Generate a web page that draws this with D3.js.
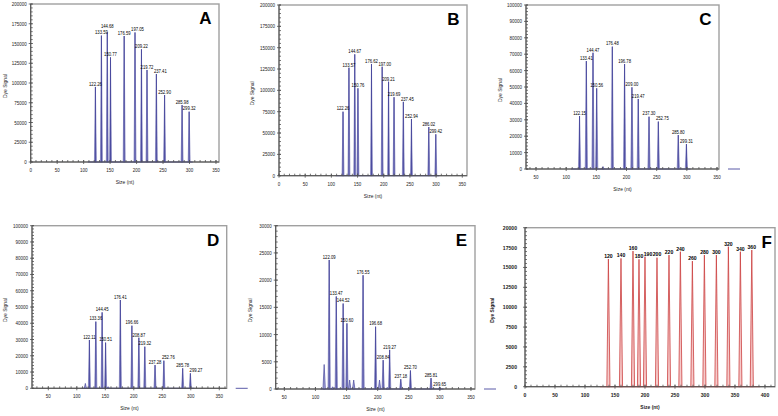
<!DOCTYPE html>
<html><head><meta charset="utf-8">
<script src="https://cdn.jsdelivr.net/npm/d3@7"></script>
<style>
html,body{margin:0;padding:0;background:#fff;}
svg{display:block;}
.t{font-family:"Liberation Sans",Arial,sans-serif;}
</style></head><body>
<svg id="chart" width="778" height="416"></svg>
<script>
// ---------------- data ----------------
const panelNames = ["A", "B", "C", "D", "E", "F"];
const xTitle = "Size (nt)";
const yTitle = "Dye Signal";

const sizesA  = [122.26, 133.59, 144.68, 150.77, 176.59, 197.05, 209.22, 219.72, 237.41, 252.90, 285.98, 299.32];
const signalA = [95000, 160000, 164000, 132500, 159500, 164000, 142700, 116500, 111400, 84800, 72000, 63700];

const sizesB  = [122.26, 133.57, 144.67, 150.76, 176.62, 197.00, 209.21, 219.69, 237.45, 252.94, 286.02, 299.42];
const signalB = [75000, 126500, 142200, 102400, 130900, 127700, 110100, 92000, 86500, 66400, 57000, 48500];

const sizesC  = [122.15, 133.41, 144.47, 150.56, 176.48, 196.78, 209.00, 219.47, 237.30, 252.75, 285.80, 299.31];
const signalC = [32300, 65800, 70900, 49200, 74600, 64000, 49800, 42700, 31900, 28900, 20700, 15200];
const minorSizesC  = [161];
const minorSignalC = [1500];

const sizesD  = [122.11, 133.36, 144.45, 150.51, 176.41, 196.66, 208.87, 219.32, 237.28, 252.76, 285.78, 299.27];
const signalD = [29700, 41000, 46700, 28100, 54300, 38500, 31100, 25600, 14300, 17000, 12300, 9200];
const minorSizesD  = [115, 155];
const minorSignalD = [3000, 1000];

const sizesE  = [122.09, 133.47, 144.52, 150.60, 176.55, 196.68, 208.84, 219.27, 237.18, 252.70, 285.81, 299.65];
const signalE = [23700, 17000, 15700, 12060, 20900, 11450, 5300, 7200, 1800, 3400, 2000, 400];
const minorSizesE  = [114, 127.6, 155, 161.5, 203, 215.4];
const minorSignalE = [4500, 400, 1650, 1650, 1650, 300];

const sizesF  = [139, 160, 180, 190, 200, 220, 240, 259, 279, 299, 319, 339, 359, 378];
const signalF = [16060, 16140, 17060, 16020, 16350, 16230, 16560, 16980, 15800, 16560, 16560, 17610, 16980, 17190];
const labelsF = ["120", "140", "160", "180", "190", "200", "220", "240", "260", "280", "300", "320", "340", "360"];

const yMaxes    = [200000, 200000, 100000, 100000, 30000, 20000];
const yMajor    = [25000, 25000, 10000, 10000, 5000, 2500];
const yMinor    = [5000, 5000, 2000, 2000, 1000, 500];
const xTicks0to350  = [0, 50, 100, 150, 200, 250, 300, 350];
const xTicks50to350 = [50, 100, 150, 200, 250, 300, 350];
const xTicks0to400  = [0, 50, 100, 150, 200, 250, 300, 350, 400];
const traceStart = [108, 108, 108, 108, 108, 125];
const traceEnd   = [306, 306, 306, 306, 306, 392];

// ---------------- layout (positions / styles) ----------------
const layout = [
  {x0: 30.7, x1: 219,   y0: 4,     y1: 162,   xd: [0, 355.7],    ytOff: 26, stub: false, lx: 13.5},
  {x0: 279,  x1: 467,   y0: 5,     y1: 175.7, xd: [0, 359],      ytOff: 27, stub: false, lx: 13.5},
  {x0: 526,  x1: 719,   y0: 5,     y1: 169,   xd: [33.4, 353.3], ytOff: 26, stub: true,  lx: 13.5},
  {x0: 32,   x1: 226.7, y0: 225.7, y1: 388.3, xd: [21.4, 363],   ytOff: 27, stub: true,  lx: 13.5},
  {x0: 275.7,x1: 475,   y0: 225.7, y1: 389,   xd: [36.1, 356.5], ytOff: 26, stub: true,  lx: 13.5},
  {x0: 525,  x1: 775,   y0: 227.7, y1: 386.7, xd: [0, 416.7],    ytOff: 33, stub: false, lx: 8.3}
];
const blue = {fill: "#a4a4d8", stroke: "#4a4a9e", base: "#5a5aa8"};
const red  = {fill: "#f6caca", stroke: "#cc4040", base: "#d06060"};

const panels = [
  {sizes: sizesA, signal: signalA, labels: sizesA.map(d3.format(".2f")), mS: [], mV: [], xt: xTicks0to350},
  {sizes: sizesB, signal: signalB, labels: sizesB.map(d3.format(".2f")), mS: [], mV: [], xt: xTicks0to350},
  {sizes: sizesC, signal: signalC, labels: sizesC.map(d3.format(".2f")), mS: minorSizesC, mV: minorSignalC, xt: xTicks50to350},
  {sizes: sizesD, signal: signalD, labels: sizesD.map(d3.format(".2f")), mS: minorSizesD, mV: minorSignalD, xt: xTicks50to350},
  {sizes: sizesE, signal: signalE, labels: sizesE.map(d3.format(".2f")), mS: minorSizesE, mV: minorSignalE, xt: xTicks50to350},
  {sizes: sizesF, signal: signalF, labels: labelsF, mS: [], mV: [], xt: xTicks0to400}
];

const svg = d3.select("#chart");

function ctext(g, x, y, str, o) {
  return g.append("text").attr("class", "t")
    .attr("transform", `translate(${x},${y}) ${o.rot ? "rotate(-90) " : ""}scale(${o.sx},1)`)
    .attr("text-anchor", o.anchor || "middle")
    .attr("font-size", o.size).attr("font-weight", o.bold ? "bold" : "normal")
    .attr("fill", o.fill || "#111").text(str);
}

panels.forEach((p, i) => {
  const L = layout[i];
  const isF = i === 5;
  const col = isF ? red : blue;
  const x = d3.scaleLinear().domain(L.xd).range([L.x0, L.x1]);
  const y = d3.scaleLinear().domain([0, yMaxes[i]]).range([L.y1, L.y0]);
  const g = svg.append("g");

  g.append("rect").attr("x", L.x0).attr("y", L.y0)
    .attr("width", L.x1 - L.x0).attr("height", L.y1 - L.y0)
    .attr("fill", "none").attr("stroke", "#a0a0a0").attr("stroke-width", 1.4);

  g.append("line").attr("x1", x(traceStart[i])).attr("x2", x(traceEnd[i]))
    .attr("y1", y(0)).attr("y2", y(0)).attr("stroke", col.base).attr("stroke-width", 1);

  const hw = isF ? 2.6 : 1.9;
  const peakPath = (s, v) => `M${x(s - hw)},${y(0)}L${x(s)},${y(v)}L${x(s + hw)},${y(0)}Z`;
  const minors = p.mS.map((s, k) => ({s, v: p.mV[k]}));
  g.selectAll(".minor").data(minors).join("path")
    .attr("d", d => peakPath(d.s, d.v))
    .attr("fill", col.fill).attr("stroke", col.stroke).attr("stroke-width", 0.7);
  const peaks = p.sizes.map((s, k) => ({s, v: p.signal[k], lab: p.labels[k]}));
  g.selectAll(".peak").data(peaks).join("path")
    .attr("d", d => peakPath(d.s, d.v))
    .attr("fill", col.fill).attr("stroke", col.stroke).attr("stroke-width", isF ? 0.8 : 0.5);
  if (!isF) {
    g.selectAll(".core").data(peaks).join("line")
      .attr("x1", d => x(d.s)).attr("x2", d => x(d.s))
      .attr("y1", y(0)).attr("y2", d => y(d.v))
      .attr("stroke", col.stroke).attr("stroke-width", 1);
  }

  g.append("line").attr("x1", L.x0).attr("x2", L.x0).attr("y1", L.y0).attr("y2", L.y1)
    .attr("stroke", "#505050").attr("stroke-width", 1);
  g.append("line").attr("x1", L.x0).attr("x2", L.x1).attr("y1", L.y1).attr("y2", L.y1)
    .attr("stroke", "#505050").attr("stroke-width", 1);

  const yMaj = d3.range(0, yMaxes[i] + 1, yMajor[i]);
  const yMin = d3.range(0, yMaxes[i] + 1, yMinor[i]);
  g.selectAll(".ymin").data(yMin).join("line")
    .attr("x1", L.x0).attr("x2", L.x0 + 2).attr("y1", d => y(d)).attr("y2", d => y(d))
    .attr("stroke", "#505050").attr("stroke-width", 0.8);
  g.selectAll(".ymaj").data(yMaj).join("line")
    .attr("x1", L.x0 - 2).attr("x2", L.x0 + 2).attr("y1", d => y(d)).attr("y2", d => y(d))
    .attr("stroke", "#505050").attr("stroke-width", 0.8);
  yMaj.forEach(v => ctext(g, L.x0 - (isF ? 8 : 4), y(v) + 2, d3.format("d")(v),
    {size: 6, sx: isF ? 0.85 : 0.75, anchor: "end", bold: isF, fill: "#222"}));

  const xMin = d3.range(Math.ceil(L.xd[0] / 10) * 10, L.xd[1], 10);
  g.selectAll(".xmin").data(xMin).join("line")
    .attr("x1", d => x(d)).attr("x2", d => x(d)).attr("y1", L.y1 - 2).attr("y2", L.y1)
    .attr("stroke", "#505050").attr("stroke-width", 0.8);
  g.selectAll(".xmaj").data(p.xt).join("line")
    .attr("x1", d => x(d)).attr("x2", d => x(d)).attr("y1", L.y1 - 2).attr("y2", L.y1 + 2)
    .attr("stroke", "#505050").attr("stroke-width", 0.8);
  p.xt.forEach(v => ctext(g, x(v), L.y1 + 10, String(v),
    {size: 6, sx: isF ? 0.85 : 0.75, bold: isF, fill: "#222"}));

  if (L.stub) {
    g.append("line").attr("x1", L.x1 + 9).attr("x2", L.x1 + 21).attr("y1", L.y1).attr("y2", L.y1)
      .attr("stroke", col.base).attr("stroke-width", 1);
  }

  ctext(g, (L.x0 + L.x1) / 2, L.y1 + 22, xTitle, {size: 6.2, sx: 0.8, bold: isF, fill: "#222"});
  ctext(g, L.x0 - L.ytOff + 2, (L.y0 + L.y1) / 2 + 3, yTitle, {size: 6.2, sx: 0.8, rot: true, bold: isF, fill: "#222"});

  g.append("text")
    .attr("x", L.x1 - L.lx).attr("y", L.y0 + 20)
    .attr("text-anchor", "middle").attr("font-family", "Liberation Sans, Arial, sans-serif")
    .attr("font-size", 17).attr("font-weight", "bold").attr("fill", "#000").text(panelNames[i]);

  // peak labels: nudge right for small overlaps, otherwise stack upward
  const placed = [];
  const sx = isF ? 0.85 : 0.7;
  peaks.forEach(d => {
    let cx = x(d.s);
    const t = ctext(g, 0, 0, d.lab, {size: 6, sx, bold: isF, fill: "#000"});
    const w = t.node().getComputedTextLength() * sx;
    const h = 6.2;
    let by = y(d.v) - 1.2;
    let moved = true, guard = 0;
    while (moved && guard++ < 50) {
      moved = false;
      for (const b of placed) {
        const l = cx - w / 2, r = cx + w / 2;
        if (l < b.x1 + 0.5 && r > b.x0 - 0.5 && by - h < b.y1 && by > b.y0) {
          const ov = b.x1 + 0.5 - l;
          if (ov <= 6) { cx += ov; } else { by = b.y0 - 0.3; }
          moved = true;
        }
      }
    }
    placed.push({x0: cx - w / 2, x1: cx + w / 2, y0: by - h, y1: by});
    t.attr("transform", `translate(${cx},${by}) scale(${sx},1)`);
  });
});
</script>
</body></html>
